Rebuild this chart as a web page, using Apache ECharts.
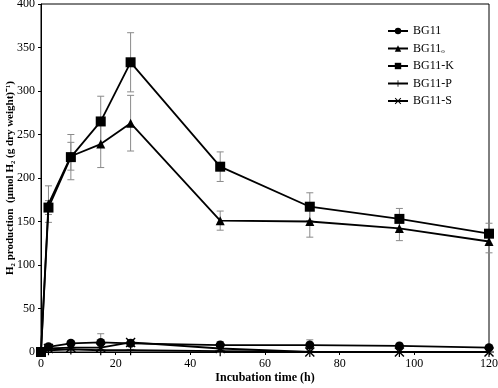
<!DOCTYPE html>
<html><head><meta charset="utf-8">
<script src="https://cdn.jsdelivr.net/npm/echarts@6/dist/echarts.min.js"></script>
<style>html,body{margin:0;padding:0;background:#fff}#c{width:498px;height:388px}</style>
</head><body><div id="c"></div>
<script>
const times = [0, 2, 8, 16, 24, 48, 72, 96, 120];
const seriesNames = ['BG11', 'BG11ₒ', 'BG11-K', 'BG11-P', 'BG11-S'];
const bg11 = [0, 6, 10, 11, 10, 8, 8, 7, 5];
const bg11Err = [0, 2, 3, 10, 3, 4, 6, 3, 2];
const bg11o = [0, 170, 225, 239, 263, 151, 150, 142, 127];
const bg11oErr = [0, 21, 16, 27, 32, 11, 18, 14, 13];
const bg11K = [0, 166, 224, 265, 333, 213, 167, 153, 136];
const bg11KErr = [0, 8, 26, 29, 34, 17, 16, 12, 12];
const bg11P = [0, 2, 3, 2, 2, 1, 0, 0, 0];
const bg11PErr = [0, 1, 1, 1, 1, 1, 0, 0, 0];
const bg11S = [0, 4, 5, 5, 11, 4, 0, 0, 0];
const bg11SErr = [0, 1, 2, 2, 3, 1, 0, 0, 0];
const yTicks = [0, 50, 100, 150, 200, 250, 300, 350, 400];
const xTicks = [0, 20, 40, 60, 80, 100, 120];

const allVals = [bg11, bg11o, bg11K, bg11P, bg11S];
const allErr = [bg11Err, bg11oErr, bg11KErr, bg11PErr, bg11SErr];
const symbols = ['circle', 'triangle', 'rect',
  'path://M0,4.4h10v1.2h-10zM4.4,0h1.2v10h-1.2z',
  'path://M0,1L1,0L5,4L9,0L10,1L6,5L10,9L9,10L5,6L1,10L0,9L4,5Z'];
const sizes = [9, 9, 10, 10, 10];
const font = '"Liberation Serif", "Times New Roman", serif';

const series = [];
allVals.forEach((vals, i) => {
  const err = allErr[i];
  series.push({
    type: 'custom', name: seriesNames[i] + '_err', silent: true, z: 1,
    data: times.map((t, k) => [t, vals[k] - err[k], vals[k] + err[k]]),
    renderItem: function (params, api) {
      if (api.value(2) === api.value(1)) return null;
      const lo = api.coord([api.value(0), api.value(1)]);
      const hi = api.coord([api.value(0), api.value(2)]);
      const w = 3.5;
      const st = { stroke: '#8a8a8a', lineWidth: 1 };
      return { type: 'group', children: [
        { type: 'line', shape: { x1: lo[0], y1: lo[1], x2: hi[0], y2: hi[1] }, style: st },
        { type: 'line', shape: { x1: lo[0] - w, y1: lo[1], x2: lo[0] + w, y2: lo[1] }, style: st },
        { type: 'line', shape: { x1: hi[0] - w, y1: hi[1], x2: hi[0] + w, y2: hi[1] }, style: st }
      ]};
    }
  });
});
allVals.forEach((vals, i) => {
  series.push({
    type: 'line', name: seriesNames[i], z: 3,
    data: times.map((t, k) => [t, vals[k]]),
    symbol: symbols[i], symbolSize: sizes[i], showAllSymbol: true,
    lineStyle: { color: '#000', width: 1.8 },
    itemStyle: { color: '#000', borderWidth: 0 },
    emphasis: { disabled: true }
  });
});

const chart = echarts.init(document.getElementById('c'), null, { renderer: 'canvas' });
chart.setOption({
  animation: false,
  backgroundColor: '#fff',
  textStyle: { fontFamily: font, color: '#000' },
  grid: { left: 41, right: 9, top: 4, bottom: 36, show: true, borderColor: '#000', borderWidth: 1,
          containLabel: false, outerBoundsMode: 'none' },
  legend: {
    data: seriesNames, orient: 'vertical', left: 382, top: 20,
    itemWidth: 20, itemHeight: 8, itemGap: 5.5,
    textStyle: { fontFamily: font, fontSize: 12, color: '#000' }
  },
  xAxis: {
    type: 'value', min: 0, max: 120, interval: 20,
    name: 'Incubation time (h)', nameLocation: 'middle', nameGap: 20, nameMoveOverlap: false,
    nameTextStyle: { fontFamily: font, fontSize: 12, fontWeight: 'bold', color: '#000' },
    axisLine: { lineStyle: { color: '#000', width: 1 } },
    axisTick: { show: true, length: 3, lineStyle: { color: '#000' } },
    axisLabel: { fontFamily: font, fontSize: 12, color: '#000', margin: 6 },
    splitLine: { show: false }
  },
  yAxis: {
    type: 'value', min: 0, max: 400, interval: 50,
    name: 'H₂ production  (µmol H₂ (g dry weight)⁻¹)', nameLocation: 'middle', nameGap: 25, nameRotate: 90,
    nameMoveOverlap: false,
    nameTextStyle: { fontFamily: font, fontSize: 11, fontWeight: 'bold', color: '#000' },
    axisLine: { show: true, lineStyle: { color: '#000', width: 1 } },
    axisTick: { show: true, length: 3, lineStyle: { color: '#000' } },
    axisLabel: { fontFamily: font, fontSize: 12, color: '#000', margin: 6 },
    splitLine: { show: false }
  },
  series: series
});
</script></body></html>
